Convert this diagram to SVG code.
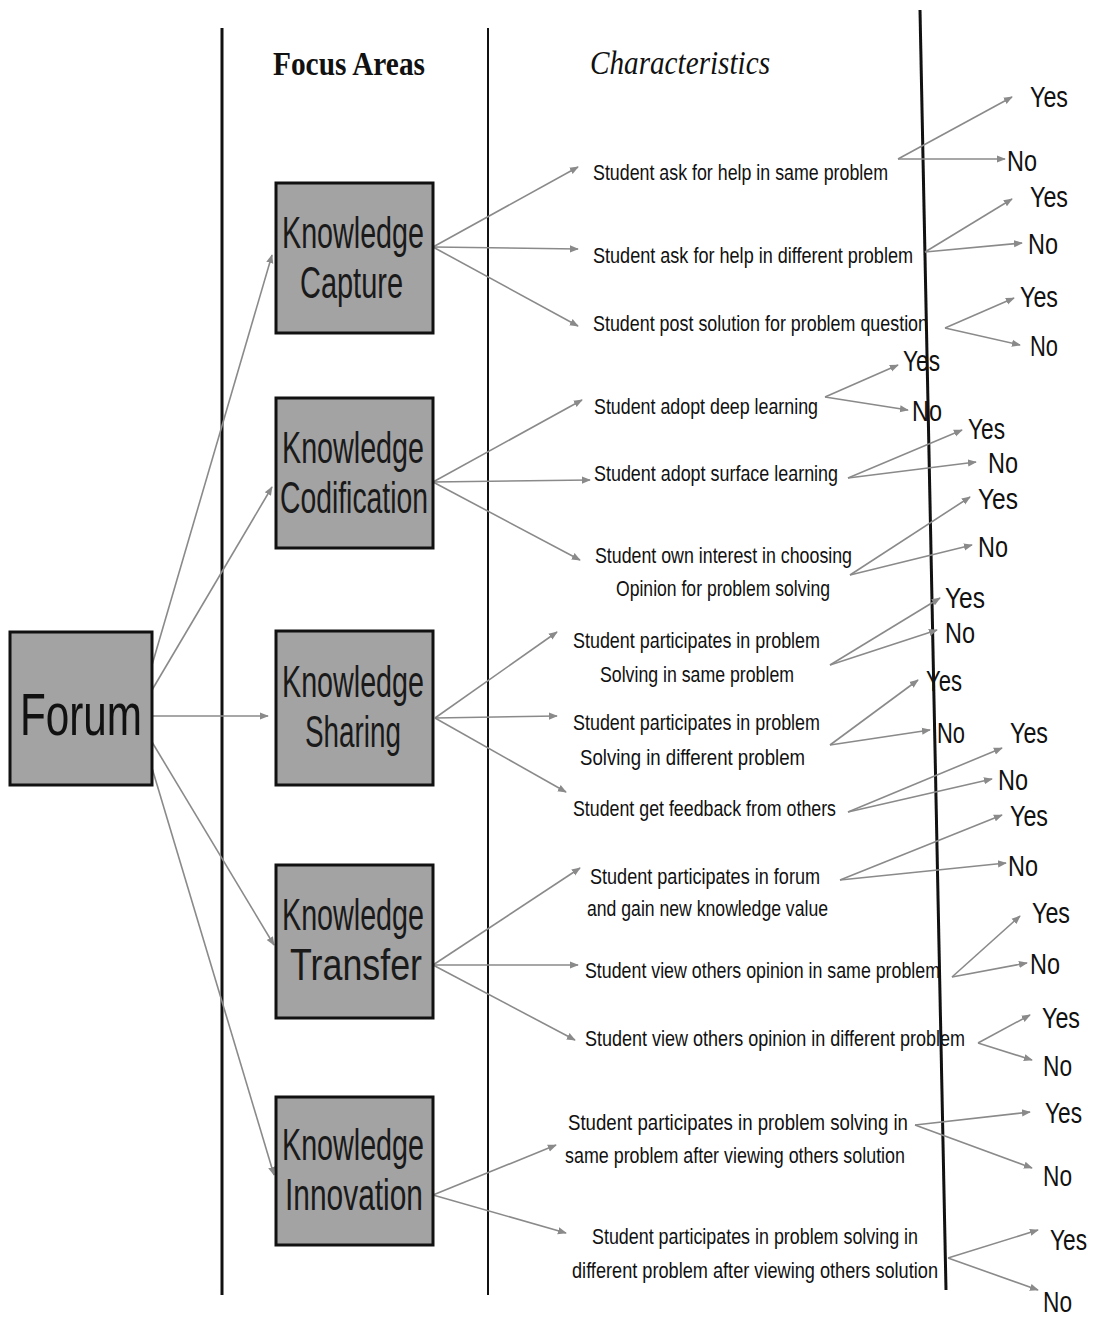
<svg xmlns="http://www.w3.org/2000/svg" width="1098" height="1321" viewBox="0 0 1098 1321">
<defs>
<marker id="ah" viewBox="0 0 10 10" refX="9" refY="5" markerWidth="9" markerHeight="9" orient="auto" markerUnits="userSpaceOnUse">
<path d="M0,1 L10,5 L0,9 z" fill="#8a8a8a"/>
</marker>
<style>
.box{fill:#a3a3a3;stroke:#111;stroke-width:3}
.bt{font-family:"Liberation Sans",Arial,sans-serif;font-size:44px;fill:#1a1a1a;text-anchor:start}
.ft{font-family:"Liberation Sans",Arial,sans-serif;font-size:60px;fill:#111}
.ct{font-family:"Liberation Sans",Arial,sans-serif;font-size:22px;fill:#111}
.yn{font-family:"Liberation Sans",Arial,sans-serif;font-size:30px;fill:#111}
.hd{font-family:"Liberation Serif","Times New Roman",serif;font-size:34px;fill:#111}
.ln{stroke:#111;fill:none}
.ar{stroke:#8a8a8a;stroke-width:1.6;fill:none;marker-end:url(#ah)}
</style>
</defs>
<rect width="1098" height="1321" fill="#ffffff"/>

<g id="dividers">
<line class="ln" x1="222" y1="28" x2="222" y2="1295" stroke-width="3"/>
<line class="ln" x1="488" y1="28" x2="488" y2="1295" stroke-width="2"/>
<line class="ln" x1="920" y1="10" x2="946" y2="1290" stroke-width="3"/>
</g>

<g id="headers">
<text class="hd" x="273" y="75" font-weight="bold" textLength="152" lengthAdjust="spacingAndGlyphs">Focus Areas</text>
<text class="hd" x="590" y="74" font-style="italic" textLength="180" lengthAdjust="spacingAndGlyphs">Characteristics</text>
</g>

<g id="connectors">
<line class="ar" x1="152" y1="665" x2="272" y2="255"/>
<line class="ar" x1="152" y1="690" x2="272" y2="487"/>
<line class="ar" x1="152" y1="716" x2="268" y2="716"/>
<line class="ar" x1="152" y1="742" x2="274" y2="945"/>
<line class="ar" x1="152" y1="768" x2="274" y2="1175"/>
<line class="ar" x1="433" y1="247" x2="578" y2="167"/>
<line class="ar" x1="433" y1="247" x2="578" y2="249"/>
<line class="ar" x1="433" y1="247" x2="578" y2="326"/>
<line class="ar" x1="433" y1="482" x2="582" y2="400"/>
<line class="ar" x1="433" y1="482" x2="590" y2="480"/>
<line class="ar" x1="433" y1="482" x2="580" y2="560"/>
<line class="ar" x1="435" y1="718" x2="557" y2="632"/>
<line class="ar" x1="435" y1="718" x2="557" y2="716"/>
<line class="ar" x1="435" y1="718" x2="566" y2="792"/>
<line class="ar" x1="433" y1="965" x2="580" y2="868"/>
<line class="ar" x1="433" y1="965" x2="578" y2="965"/>
<line class="ar" x1="433" y1="965" x2="575" y2="1040"/>
<line class="ar" x1="433" y1="1195" x2="556" y2="1145"/>
<line class="ar" x1="433" y1="1195" x2="566" y2="1233"/>
<line class="ar" x1="898" y1="159" x2="1012" y2="97"/>
<line class="ar" x1="898" y1="159" x2="1005" y2="159"/>
<line class="ar" x1="925" y1="252" x2="1012" y2="199"/>
<line class="ar" x1="925" y1="252" x2="1022" y2="243"/>
<line class="ar" x1="945" y1="328" x2="1014" y2="298"/>
<line class="ar" x1="945" y1="328" x2="1020" y2="345"/>
<line class="ar" x1="825" y1="397" x2="898" y2="365"/>
<line class="ar" x1="825" y1="397" x2="908" y2="410"/>
<line class="ar" x1="848" y1="478" x2="962" y2="430"/>
<line class="ar" x1="848" y1="478" x2="976" y2="462"/>
<line class="ar" x1="850" y1="575" x2="970" y2="497"/>
<line class="ar" x1="850" y1="575" x2="972" y2="545"/>
<line class="ar" x1="830" y1="665" x2="940" y2="598"/>
<line class="ar" x1="830" y1="665" x2="937" y2="630"/>
<line class="ar" x1="830" y1="745" x2="918" y2="680"/>
<line class="ar" x1="830" y1="745" x2="930" y2="730"/>
<line class="ar" x1="848" y1="812" x2="1002" y2="748"/>
<line class="ar" x1="848" y1="812" x2="992" y2="779"/>
<line class="ar" x1="840" y1="880" x2="1002" y2="815"/>
<line class="ar" x1="840" y1="880" x2="1006" y2="863"/>
<line class="ar" x1="952" y1="977" x2="1020" y2="916"/>
<line class="ar" x1="952" y1="977" x2="1027" y2="963"/>
<line class="ar" x1="978" y1="1043" x2="1030" y2="1015"/>
<line class="ar" x1="978" y1="1043" x2="1032" y2="1060"/>
<line class="ar" x1="915" y1="1125" x2="1030" y2="1112"/>
<line class="ar" x1="915" y1="1125" x2="1032" y2="1168"/>
<line class="ar" x1="948" y1="1258" x2="1038" y2="1230"/>
<line class="ar" x1="948" y1="1258" x2="1038" y2="1290"/>
</g>

<g id="forum">
<rect class="box" x="10" y="632" width="142" height="153"/>
<text class="ft" x="20" y="735" textLength="122" lengthAdjust="spacingAndGlyphs">Forum</text>
</g>

<g id="knowledge-capture">
<rect class="box" x="276" y="183" width="157" height="150"/>
<text class="bt" x="282" y="248" textLength="142" lengthAdjust="spacingAndGlyphs">Knowledge</text>
<text class="bt" x="300" y="298" textLength="103" lengthAdjust="spacingAndGlyphs">Capture</text>
</g>

<g id="knowledge-codification">
<rect class="box" x="276" y="398" width="157" height="150"/>
<text class="bt" x="282" y="463" textLength="142" lengthAdjust="spacingAndGlyphs">Knowledge</text>
<text class="bt" x="280" y="513" textLength="148" lengthAdjust="spacingAndGlyphs">Codification</text>
</g>

<g id="knowledge-sharing">
<rect class="box" x="276" y="631" width="157" height="154"/>
<text class="bt" x="282" y="697" textLength="142" lengthAdjust="spacingAndGlyphs">Knowledge</text>
<text class="bt" x="305" y="747" textLength="96" lengthAdjust="spacingAndGlyphs">Sharing</text>
</g>

<g id="knowledge-transfer">
<rect class="box" x="276" y="865" width="157" height="153"/>
<text class="bt" x="282" y="930" textLength="142" lengthAdjust="spacingAndGlyphs">Knowledge</text>
<text class="bt" x="290" y="980" textLength="132" lengthAdjust="spacingAndGlyphs">Transfer</text>
</g>

<g id="knowledge-innovation">
<rect class="box" x="276" y="1097" width="157" height="148"/>
<text class="bt" x="282" y="1160" textLength="142" lengthAdjust="spacingAndGlyphs">Knowledge</text>
<text class="bt" x="285" y="1210" textLength="138" lengthAdjust="spacingAndGlyphs">Innovation</text>
</g>

<g id="characteristics">
<text class="ct" x="593" y="180" textLength="295" lengthAdjust="spacingAndGlyphs">Student ask for help in same problem</text>
<text class="ct" x="593" y="263" textLength="320" lengthAdjust="spacingAndGlyphs">Student ask for help in different problem</text>
<text class="ct" x="593" y="331" textLength="335" lengthAdjust="spacingAndGlyphs">Student post solution for problem question</text>
<text class="ct" x="594" y="414" textLength="224" lengthAdjust="spacingAndGlyphs">Student adopt deep learning</text>
<text class="ct" x="594" y="481" textLength="244" lengthAdjust="spacingAndGlyphs">Student adopt surface learning</text>
<text class="ct" x="595" y="563" textLength="257" lengthAdjust="spacingAndGlyphs">Student own interest in choosing</text>
<text class="ct" x="616" y="596" textLength="214" lengthAdjust="spacingAndGlyphs">Opinion for problem solving</text>
<text class="ct" x="573" y="648" textLength="247" lengthAdjust="spacingAndGlyphs">Student participates in problem</text>
<text class="ct" x="600" y="682" textLength="194" lengthAdjust="spacingAndGlyphs">Solving in same problem</text>
<text class="ct" x="573" y="730" textLength="247" lengthAdjust="spacingAndGlyphs">Student participates in problem</text>
<text class="ct" x="580" y="765" textLength="225" lengthAdjust="spacingAndGlyphs">Solving in different problem</text>
<text class="ct" x="573" y="816" textLength="263" lengthAdjust="spacingAndGlyphs">Student get feedback from others</text>
<text class="ct" x="590" y="884" textLength="230" lengthAdjust="spacingAndGlyphs">Student participates in forum</text>
<text class="ct" x="587" y="916" textLength="241" lengthAdjust="spacingAndGlyphs">and gain new knowledge value</text>
<text class="ct" x="585" y="978" textLength="355" lengthAdjust="spacingAndGlyphs">Student view others opinion in same problem</text>
<text class="ct" x="585" y="1046" textLength="380" lengthAdjust="spacingAndGlyphs">Student view others opinion in different problem</text>
<text class="ct" x="568" y="1130" textLength="340" lengthAdjust="spacingAndGlyphs">Student participates in problem solving in</text>
<text class="ct" x="565" y="1163" textLength="340" lengthAdjust="spacingAndGlyphs">same problem after viewing others solution</text>
<text class="ct" x="592" y="1244" textLength="326" lengthAdjust="spacingAndGlyphs">Student participates in problem solving in</text>
<text class="ct" x="572" y="1278" textLength="366" lengthAdjust="spacingAndGlyphs">different problem after viewing others solution</text>
</g>

<g id="outcomes">
<text class="yn" x="1030" y="107" textLength="38" lengthAdjust="spacingAndGlyphs">Yes</text>
<text class="yn" x="1007" y="171" textLength="30" lengthAdjust="spacingAndGlyphs">No</text>
<text class="yn" x="1030" y="207" textLength="38" lengthAdjust="spacingAndGlyphs">Yes</text>
<text class="yn" x="1028" y="254" textLength="30" lengthAdjust="spacingAndGlyphs">No</text>
<text class="yn" x="1020" y="307" textLength="38" lengthAdjust="spacingAndGlyphs">Yes</text>
<text class="yn" x="1030" y="356" textLength="28" lengthAdjust="spacingAndGlyphs">No</text>
<text class="yn" x="903" y="371" textLength="37" lengthAdjust="spacingAndGlyphs">Yes</text>
<text class="yn" x="912" y="421" textLength="30" lengthAdjust="spacingAndGlyphs">No</text>
<text class="yn" x="968" y="439" textLength="37" lengthAdjust="spacingAndGlyphs">Yes</text>
<text class="yn" x="988" y="473" textLength="30" lengthAdjust="spacingAndGlyphs">No</text>
<text class="yn" x="978" y="509" textLength="40" lengthAdjust="spacingAndGlyphs">Yes</text>
<text class="yn" x="978" y="557" textLength="30" lengthAdjust="spacingAndGlyphs">No</text>
<text class="yn" x="945" y="608" textLength="40" lengthAdjust="spacingAndGlyphs">Yes</text>
<text class="yn" x="945" y="643" textLength="30" lengthAdjust="spacingAndGlyphs">No</text>
<text class="yn" x="926" y="691" textLength="36" lengthAdjust="spacingAndGlyphs">Yes</text>
<text class="yn" x="937" y="743" textLength="28" lengthAdjust="spacingAndGlyphs">No</text>
<text class="yn" x="1010" y="743" textLength="38" lengthAdjust="spacingAndGlyphs">Yes</text>
<text class="yn" x="998" y="790" textLength="30" lengthAdjust="spacingAndGlyphs">No</text>
<text class="yn" x="1010" y="826" textLength="38" lengthAdjust="spacingAndGlyphs">Yes</text>
<text class="yn" x="1008" y="876" textLength="30" lengthAdjust="spacingAndGlyphs">No</text>
<text class="yn" x="1032" y="923" textLength="38" lengthAdjust="spacingAndGlyphs">Yes</text>
<text class="yn" x="1030" y="974" textLength="30" lengthAdjust="spacingAndGlyphs">No</text>
<text class="yn" x="1042" y="1028" textLength="38" lengthAdjust="spacingAndGlyphs">Yes</text>
<text class="yn" x="1043" y="1076" textLength="29" lengthAdjust="spacingAndGlyphs">No</text>
<text class="yn" x="1045" y="1123" textLength="37" lengthAdjust="spacingAndGlyphs">Yes</text>
<text class="yn" x="1043" y="1186" textLength="29" lengthAdjust="spacingAndGlyphs">No</text>
<text class="yn" x="1050" y="1250" textLength="37" lengthAdjust="spacingAndGlyphs">Yes</text>
<text class="yn" x="1043" y="1312" textLength="29" lengthAdjust="spacingAndGlyphs">No</text>
</g>
</svg>
